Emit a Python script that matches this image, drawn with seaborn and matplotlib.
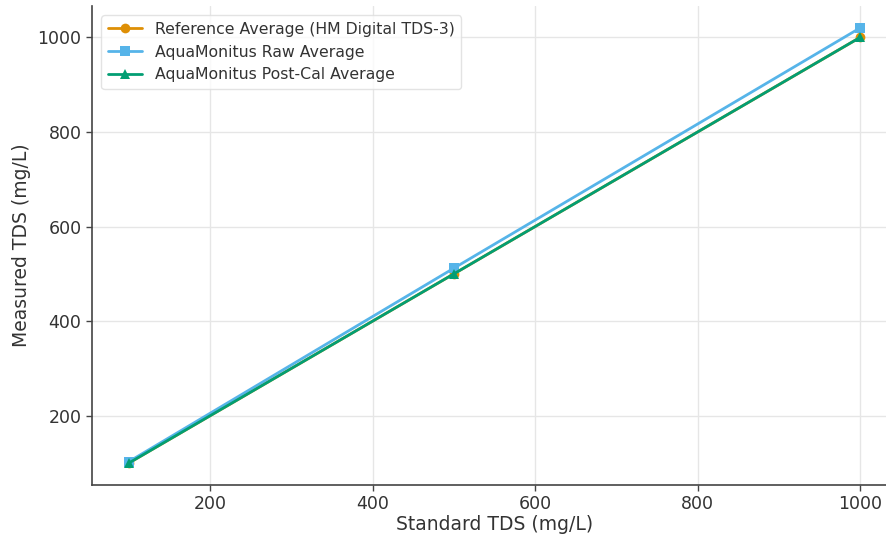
import matplotlib
matplotlib.use("Agg")
import matplotlib.pyplot as plt
import seaborn as sns
import pandas as pd

# Calibration check: measured vs. standard TDS solutions
standard_tds = [100, 500, 1000]
reference_avg = [100, 500, 1000]
raw_avg = [103, 512, 1020]
postcal_avg = [100, 500, 1000]

series_names = [
    "Reference Average (HM Digital TDS-3)",
    "AquaMonitus Raw Average",
    "AquaMonitus Post-Cal Average",
]
series_values = [reference_avg, raw_avg, postcal_avg]
colors = ["#DE8F05", "#56B4E9", "#029E73"]
markers = ["o", "s", "^"]

sns.set_theme(style="whitegrid")
plt.rcParams["font.family"] = ["DejaVu Sans"]
plt.rcParams.update({
    "axes.edgecolor": "#444444",
    "grid.color": "#e6e6e6",
    "xtick.bottom": True,
    "ytick.left": True,
})

fig = plt.figure(figsize=(8.86, 5.39), dpi=100)
ax = fig.add_axes([0.1038, 0.1002, 0.9086, 0.8887])

for name, vals, c, m in zip(series_names, series_values, colors, markers):
    df = pd.DataFrame({"Standard TDS (mg/L)": standard_tds, "Measured TDS (mg/L)": vals})
    sns.lineplot(data=df, x="Standard TDS (mg/L)", y="Measured TDS (mg/L)",
                 color=c, marker=m, markersize=7, linewidth=2, markeredgewidth=0,
                 label=name, ax=ax)

ax.set_xticks([200, 400, 600, 800, 1000])
ax.set_yticks([200, 400, 600, 800, 1000])
ax.tick_params(labelsize=12.5, colors="#444444", labelcolor="#333333", length=4, width=1)
ax.set_xlabel("Standard TDS (mg/L)", fontsize=13.5, color="#333333", labelpad=1)
ax.set_ylabel("Measured TDS (mg/L)", fontsize=13.5, color="#333333", labelpad=5)
for side in ("top", "right"):
    ax.spines[side].set_visible(False)
for side in ("left", "bottom"):
    ax.spines[side].set_linewidth(1.2)

leg = ax.legend(loc="upper left", fontsize=11.3, frameon=True,
                borderaxespad=0.6, handlelength=2.2)
leg.get_frame().set_edgecolor("#dddddd")
for t in leg.get_texts():
    t.set_color("#333333")

fig.savefig("out.png", dpi=100)
